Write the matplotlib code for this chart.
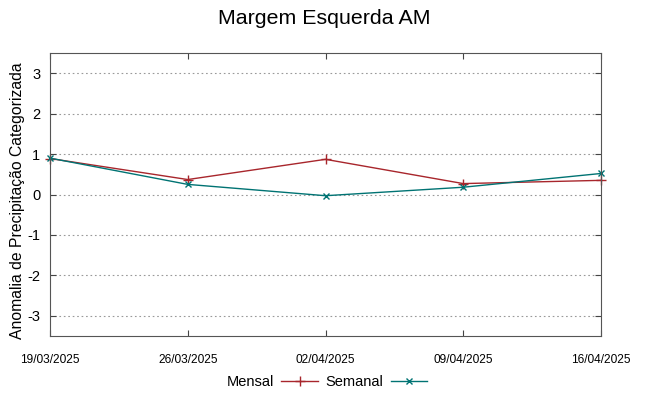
import matplotlib
matplotlib.use("Agg")
import matplotlib.pyplot as plt
import numpy as np

plt.rcParams['font.family'] = ['Liberation Sans', 'DejaVu Sans']

dates = ["19/03/2025", "26/03/2025", "02/04/2025", "09/04/2025", "16/04/2025"]
mensal = [0.89, 0.37, 0.87, 0.27, 0.35]
semanal = [0.90, 0.25, -0.03, 0.18, 0.52]
yticks = [-3, -2, -1, 0, 1, 2, 3]

fig = plt.figure(figsize=(6.49, 3.96), dpi=100)
ax = fig.add_axes([50/649, 1-336/396, 551/649, 283/396])

x = np.arange(len(dates))
l1, = ax.plot(x, mensal, color='#a8262c', lw=1.0, marker='+', ms=7, mew=1.0, label='Mensal', clip_on=False)
l2, = ax.plot(x, semanal, color='#007373', lw=1.0, marker='x', ms=5, mew=1.0, label='Semanal', clip_on=False)

ax.set_xlim(0, len(dates)-1)
ax.set_ylim(-3.5, 3.5)
ax.set_xticks(x)
ax.set_xticklabels(dates, fontsize=8.6)
ax.set_yticks(yticks)
ax.set_yticklabels([str(v) for v in yticks], fontsize=10.5)
ax.tick_params(direction='in', top=True, right=True, length=4, color='#444444', pad=7)
ax.tick_params(axis='x', pad=13)
ax.yaxis.grid(True, linestyle=(0, (1.5, 2.5)), color='#999999', lw=0.8)
for s in ax.spines.values():
    s.set_color('#555555')
ax.set_ylabel('Anomalia de Precipitação Categorizada', fontsize=11.3)
ax.yaxis.set_label_coords((18-50)/551, (336-201)/283)
ax.yaxis.label.set_va('center')

fig.suptitle('Margem Esquerda AM', fontsize=15.4, y=1-18/396, va='center')

fig.legend(handles=[l1, l2], loc='center', bbox_to_anchor=(327/649, 1-382/396), ncol=2,
           frameon=False, markerfirst=False, fontsize=10.5, handlelength=2.5, columnspacing=0.55, handletextpad=0.5)

fig.savefig('out.png', dpi=100)
